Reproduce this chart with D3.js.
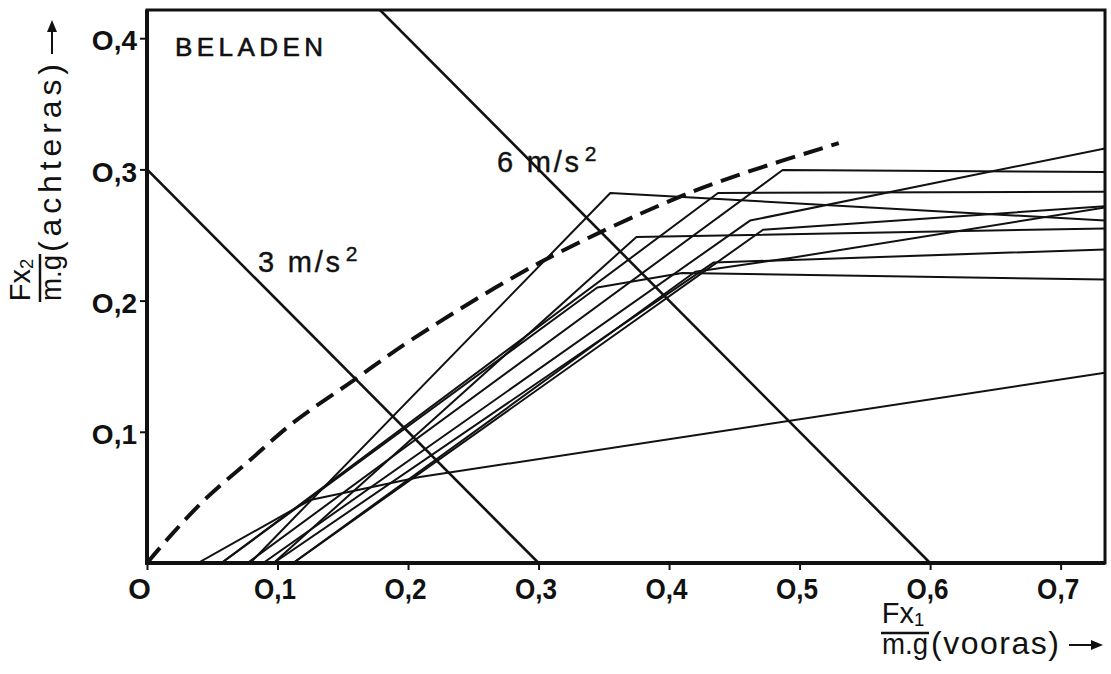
<!DOCTYPE html>
<html><head><meta charset="utf-8">
<script src="https://cdn.jsdelivr.net/npm/d3@7"></script>
<style>body{margin:0;background:#fff}svg{display:block}</style>
</head><body><svg id="c" width="1111" height="674"></svg>
<script>
// ---- data ----
const xTicks = [0, 0.1, 0.2, 0.3, 0.4, 0.5, 0.6, 0.7];
const xTickLabels = ["O", "O,1", "O,2", "O,3", "O,4", "O,5", "O,6", "O,7"];
const yTicks = [0.1, 0.2, 0.3, 0.4];
const yTickLabels = ["O,1", "O,2", "O,3", "O,4"];
const dashedCurve = [[0,0],[0.020,0.023],[0.046,0.050],[0.079,0.0785],[0.112,0.107],[0.158,0.139],[0.204,0.171],[0.301,0.229],[0.403,0.277],[0.454,0.296],[0.530,0.320]];
const accelSums = [0.3, 0.6];
const accelLabels = ["3 m/s", "6 m/s"];
const brakeLines = [
  [[0.039,0],[0.125,0.048],[0.209,0.0655],[0.734,0.145]],
  [[0.057,0],[0.345,0.210],[0.41,0.221],[0.734,0.216]],
  [[0.057,0],[0.4375,0.282],[0.734,0.283]],
  [[0.079,0],[0.355,0.282],[0.734,0.261]],
  [[0.077,0],[0.487,0.2995],[0.734,0.298]],
  [[0.097,0],[0.375,0.2485],[0.734,0.255]],
  [[0.089,0],[0.462,0.261],[0.734,0.316]],
  [[0.112,0],[0.472,0.254],[0.734,0.272]],
  [[0.097,0],[0.434,0.229],[0.734,0.239]],
  [[0.112,0],[0.42,0.222],[0.493,0.2325],[0.734,0.271]]
];
const title = "BELADEN";

// ---- layout ----
const L = 147, T = 10, R = 1105, B = 563;
const x = d3.scaleLinear().domain([0, 0.734]).range([L, R]);
const y = d3.scaleLinear().domain([0, 0.4215]).range([B, T]);
const svg = d3.select("#c");
const ink = "#111";
const ff = "'Liberation Sans',Arial,sans-serif";

svg.append("defs").append("clipPath").attr("id","clip")
  .append("rect").attr("x",L).attr("y",T).attr("width",R-L).attr("height",B-T);

const line = d3.line().x(d=>x(d[0])).y(d=>y(d[1]));
const plot = svg.append("g").attr("clip-path","url(#clip)");

// brake distribution lines
plot.selectAll("path.b").data(brakeLines).join("path")
  .attr("d", line).attr("fill","none").attr("stroke",ink).attr("stroke-width",2)
  .attr("stroke-linejoin","round");

// constant deceleration lines
plot.selectAll("path.a").data(accelSums).join("path")
  .attr("d", s => line([[0,s],[s,0]])).attr("fill","none").attr("stroke",ink).attr("stroke-width",2.6);

// ideal (dashed) curve
plot.append("path").datum(dashedCurve)
  .attr("d", d3.line().curve(d3.curveCatmullRom).x(d=>x(d[0])).y(d=>y(d[1])))
  .attr("fill","none").attr("stroke",ink).attr("stroke-width",4)
  .attr("stroke-dasharray","20,9");

// frame
svg.append("rect").attr("x",L).attr("y",T).attr("width",R-L).attr("height",B-T)
  .attr("fill","none").attr("stroke",ink).attr("stroke-width",3);
svg.append("path").attr("d",`M${L},${T} V${B} H${R}`).attr("fill","none").attr("stroke",ink).attr("stroke-width",4);

// axes
const xAxis = d3.axisBottom(x).tickValues(xTicks).tickSize(7).tickFormat((d,i)=>xTickLabels[i]);
const gx = svg.append("g").attr("transform",`translate(0,${B})`).call(xAxis);
gx.select(".domain").remove();
gx.selectAll(".tick line").attr("stroke",ink).attr("stroke-width",2);
gx.selectAll(".tick text").attr("fill",ink).attr("font-family",ff)
  .attr("font-size",29).attr("font-weight","bold").attr("dy","0.6em").attr("y",19)
  .attr("dx",(d,i)=> i===0 ? -8 : -3).attr("textLength",(d,i)=> i===0 ? null : 42).attr("lengthAdjust","spacingAndGlyphs");

const yAxis = d3.axisLeft(y).tickValues(yTicks).tickSize(7).tickFormat((d,i)=>yTickLabels[i]);
const gy = svg.append("g").attr("transform",`translate(${L},0)`).call(yAxis);
gy.select(".domain").remove();
gy.selectAll(".tick line").attr("stroke",ink).attr("stroke-width",2);
gy.selectAll(".tick text").attr("fill",ink).attr("font-family",ff)
  .attr("font-size",28).attr("font-weight","bold").attr("x",-10).attr("dy","0.42em");

// title
svg.append("text").attr("x",175).attr("y",56).text(title)
  .attr("font-family",ff).attr("font-size",26).attr("textLength",148).attr("lengthAdjust","spacing")
  .attr("fill",ink).attr("stroke",ink).attr("stroke-width",0.6);

// accel labels
const accPos = [[258,272],[497,172]];
accelLabels.forEach((t,i)=>{
  const tx = svg.append("text").attr("x",accPos[i][0]).attr("y",accPos[i][1])
    .attr("font-family",ff).attr("font-size",29).attr("fill",ink).attr("stroke",ink).attr("stroke-width",0.4);
  tx.append("tspan").text(t).attr("textLength",82).attr("lengthAdjust","spacing");
  tx.append("tspan").text("2").attr("font-size",21).attr("dy",-11).attr("dx",3);
});

// fraction labels
function fracLabel(g, sub, word, wordLen, wfs){
  const fs = 29;
  const num = g.append("text").attr("x",22).attr("y",-10).attr("text-anchor","middle")
    .attr("font-family",ff).attr("font-size",fs).attr("fill",ink);
  num.append("tspan").text("Fx");
  num.append("tspan").text(sub).attr("font-size",fs*0.64).attr("dy",3);
  g.append("line").attr("x1",0).attr("x2",48).attr("y1",0).attr("y2",0).attr("stroke",ink).attr("stroke-width",2.5);
  g.append("text").attr("x",24).attr("y",21).attr("text-anchor","middle")
    .attr("font-family",ff).attr("font-size",fs).attr("textLength",46).attr("lengthAdjust","spacingAndGlyphs")
    .attr("fill",ink).text("m.g");
  g.append("text").attr("x",50).attr("y",21).attr("font-family",ff).attr("font-size",wfs)
    .attr("textLength",wordLen).attr("lengthAdjust","spacing").attr("fill",ink).text(word);
  const ax = 50 + wordLen + 10;
  g.append("line").attr("x1",ax).attr("x2",ax+26).attr("y1",12).attr("y2",12).attr("stroke",ink).attr("stroke-width",2);
  g.append("path").attr("d",`M${ax+34},12 L${ax+22},7 L${ax+22},17 Z`).attr("fill",ink);
}
fracLabel(svg.append("g").attr("transform","translate(881,633)"), "1", "(vooras)", 128, 32);
fracLabel(svg.append("g").attr("transform","translate(40,302) rotate(-90)"), "2", "(achteras)", 188, 32);
</script></body></html>
